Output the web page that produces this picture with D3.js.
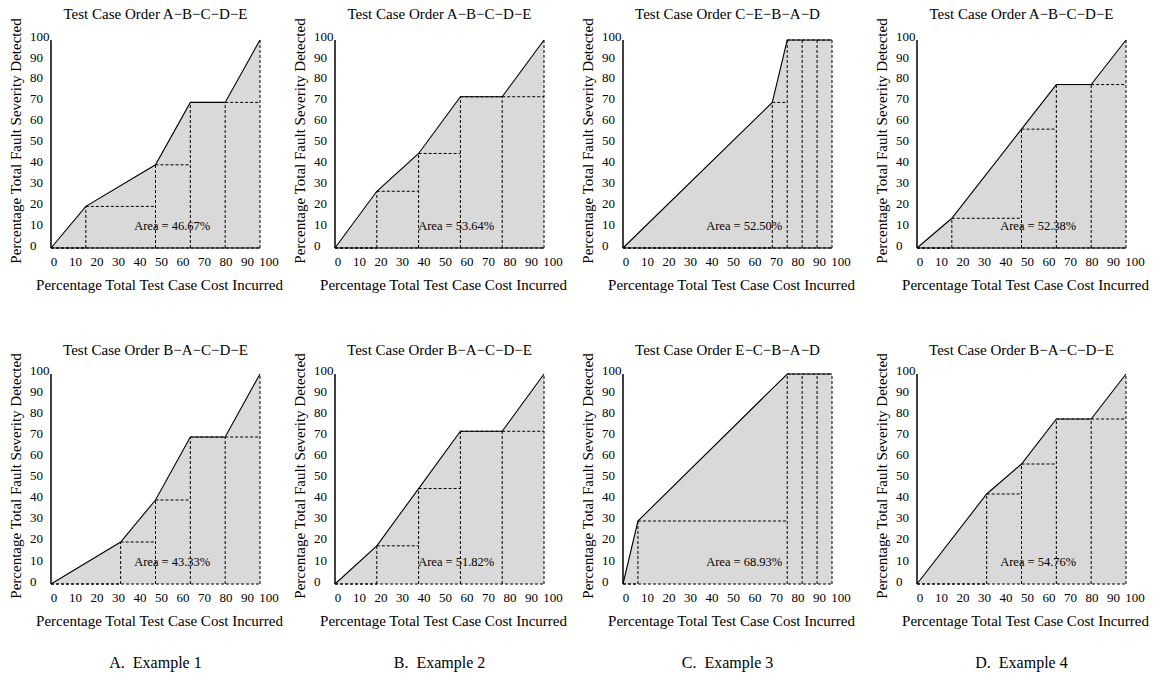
<!DOCTYPE html>
<html>
<head>
<meta charset="utf-8">
<script src="https://cdn.jsdelivr.net/npm/d3@7"></script>
<style>
  body { margin: 0; background: #fff; }
  text { font-family: "Liberation Serif", "Times New Roman", serif; fill: #000; }
</style>
</head>
<body>
<div id="chart"></div>
<script>
// test case orders shown above each panel
const orders = ["A−B−C−D−E", "A−B−C−D−E", "C−E−B−A−D", "A−B−C−D−E",
                "B−A−C−D−E", "B−A−C−D−E", "E−C−B−A−D", "B−A−C−D−E"];

// cumulative percentage of test case cost after each test
const costs = [
  [0, 16.67, 50, 66.67, 83.33, 100],
  [0, 20, 40, 60, 80, 100],
  [0, 71.43, 78.57, 85.71, 92.86, 100],
  [0, 16.67, 50, 66.67, 83.33, 100],
  [0, 33.33, 50, 66.67, 83.33, 100],
  [0, 20, 40, 60, 80, 100],
  [0, 7.14, 78.57, 85.71, 92.86, 100],
  [0, 33.33, 50, 66.67, 83.33, 100]
];

// cumulative percentage of fault severity detected after each test
const severities = [
  [0, 20, 40, 70, 70, 100],
  [0, 27.27, 45.45, 72.73, 72.73, 100],
  [0, 70, 100, 100, 100, 100],
  [0, 14.29, 57.14, 78.57, 78.57, 100],
  [0, 20, 40, 70, 70, 100],
  [0, 18.18, 45.45, 72.73, 72.73, 100],
  [0, 30, 100, 100, 100, 100],
  [0, 42.86, 57.14, 78.57, 78.57, 100]
];

const areas = ["46.67%", "53.64%", "52.50%", "52.38%", "43.33%", "51.82%", "68.93%", "54.76%"];
const captions = ["A.  Example 1", "B.  Example 2", "C.  Example 3", "D.  Example 4"];
const tickValues = [0, 10, 20, 30, 40, 50, 60, 70, 80, 90, 100];

// layout
const width = 1158, height = 675;
const colLeft = [51, 335, 623, 917];
const rowTop = [40, 374];
const plotW = 209, plotH = [208, 210];

const svg = d3.select("#chart").append("svg")
    .attr("width", width)
    .attr("height", height);

orders.forEach((order, k) => {
    const row = Math.floor(k / 4), col = k % 4;
    const W = plotW, H = plotH[row];
    const g = svg.append("g")
        .attr("transform", `translate(${colLeft[col]},${rowTop[row]})`);

    const x = d3.scaleLinear().domain([0, 100]).range([0, W]);
    const y = d3.scaleLinear().domain([0, 100]).range([H, 0]);
    // tick labels in the original sit on a slightly wider grid than the plot
    const xl = d3.scaleLinear().domain([0, 100]).range([2.5, 217.5]);
    const yl = d3.scaleLinear().domain([0, 100]).range([H - 3, -4]);

    const pts = costs[k].map((c, i) => [c, severities[k][i]]);

    // shaded area under the curve
    g.append("path")
        .datum(pts)
        .attr("fill", "#d9d9d9")
        .attr("d", d3.area().x(d => x(d[0])).y0(y(0)).y1(d => y(d[1])));

    // dashed rectangles
    const dash = g.append("g")
        .attr("stroke", "#000")
        .attr("stroke-width", 1)
        .attr("stroke-dasharray", "3,2");
    dash.append("line")
        .attr("x1", x(0)).attr("x2", x(100))
        .attr("y1", y(0)).attr("y2", y(0));
    for (let i = 1; i < pts.length; i++) {
        dash.append("line")
            .attr("x1", x(pts[i][0])).attr("x2", x(pts[i][0]))
            .attr("y1", y(0)).attr("y2", y(pts[i][1]));
        dash.append("line")
            .attr("x1", x(pts[i - 1][0])).attr("x2", x(pts[i][0]))
            .attr("y1", y(pts[i - 1][1])).attr("y2", y(pts[i - 1][1]));
    }

    // curve
    g.append("path")
        .datum(pts)
        .attr("fill", "none")
        .attr("stroke", "#000")
        .attr("stroke-width", 1.1)
        .attr("d", d3.line().x(d => x(d[0])).y(d => y(d[1])));

    // axis lines
    g.append("line")
        .attr("x1", 0).attr("x2", 0)
        .attr("y1", 0).attr("y2", H)
        .attr("stroke", "#000").attr("stroke-width", 1.5);
    if (row === 0) {
        g.append("line")
            .attr("x1", 0).attr("x2", W)
            .attr("y1", H).attr("y2", H)
            .attr("stroke", "#000").attr("stroke-width", 1.2);
    }

    // tick labels
    const xa = g.append("g")
        .attr("transform", `translate(0,${H})`)
        .call(d3.axisBottom(xl).tickValues(tickValues).tickSize(0).tickPadding(9));
    const ya = g.append("g")
        .call(d3.axisLeft(yl).tickValues(tickValues).tickSize(0));
    [xa, ya].forEach(a => {
        a.select(".domain").remove();
        a.selectAll("text")
            .style("font-family", "'Liberation Serif', serif")
            .style("font-size", "13px");
    });
    ya.selectAll("text").attr("text-anchor", "start").attr("x", -21);

    // area label
    g.append("text")
        .attr("x", x(58))
        .attr("y", y(10.5) + 4)
        .attr("text-anchor", "middle")
        .style("font-size", "12.5px")
        .text(`Area = ${areas[k]}`);

    // titles
    g.append("text")
        .attr("x", W / 2)
        .attr("y", row === 0 ? -21 : -19)
        .attr("text-anchor", "middle")
        .style("font-size", "15px")
        .text(`Test Case Order ${order}`);
    g.append("text")
        .attr("x", W / 2 + 4)
        .attr("y", H + 42)
        .attr("text-anchor", "middle")
        .style("font-size", "15px")
        .text("Percentage Total Test Case Cost Incurred");
    g.append("text")
        .attr("transform", `translate(-30.5,${H / 2 - 3}) rotate(-90)`)
        .attr("text-anchor", "middle")
        .style("font-size", "15px")
        .text("Percentage Total Fault Severity Detected");
});

// captions under each column
svg.selectAll(".caption")
    .data(captions)
    .enter()
    .append("text")
    .attr("class", "caption")
    .attr("x", (d, i) => colLeft[i] + plotW / 2)
    .attr("y", 668)
    .attr("text-anchor", "middle")
    .style("font-size", "16px")
    .style("white-space", "pre")
    .text(d => d);
</script>
</body>
</html>
